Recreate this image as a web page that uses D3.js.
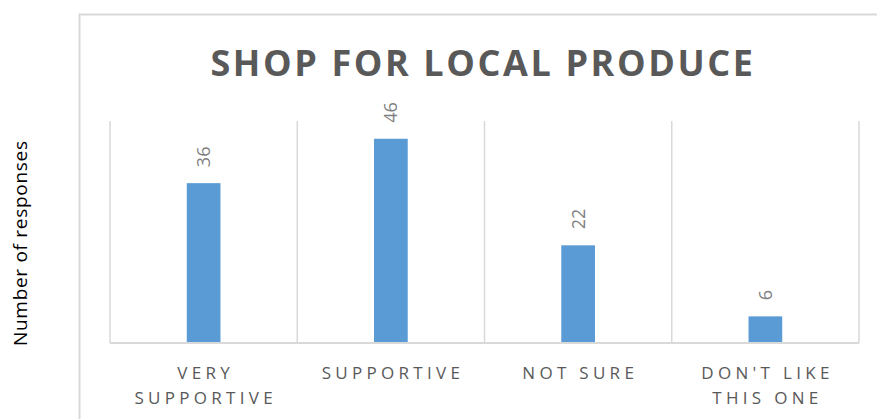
<!DOCTYPE html>
<html>
<head>
<meta charset="utf-8">
<script src="https://cdn.jsdelivr.net/npm/d3@7"></script>
<style>
  html, body { margin: 0; padding: 0; background: #fff; }
  svg { display: block; }
</style>
</head>
<body>
<svg id="chart" width="877" height="419"></svg>
<script>
// Survey responses for "Shop for local produce"
const categories = [["VERY", "SUPPORTIVE"], ["SUPPORTIVE"], ["NOT SURE"], ["DON'T LIKE", "THIS ONE"]];
const categoryKeys = ["Very supportive", "Supportive", "Not sure", "Don't like this one"];
const responses = [36, 46, 22, 6];
const yDomain = [0, 50];
const chartTitle = "SHOP FOR LOCAL PRODUCE";
const yAxisTitle = "Number of responses";

const svg = d3.select("#chart");
const W = 877, H = 419;
const plot = { left: 110, right: 859, top: 121, bottom: 343 };

const gridColor = "#d9d9d9";
const textGray = "#595959";
const barColor = "#5b9bd5";

// Chart area frame (extends past the window on the right and bottom)
svg.append("rect")
  .attr("x", 79.5).attr("y", 14.5)
  .attr("width", W + 20).attr("height", H + 20)
  .attr("fill", "none").attr("stroke", gridColor).attr("stroke-width", 2);

const x = d3.scaleBand().domain(categoryKeys).range([plot.left, plot.right]).paddingInner(0).paddingOuter(0);
const y = d3.scaleLinear().domain(yDomain).range([plot.bottom, plot.top]);

// Vertical category separators
const sepX = categoryKeys.map(k => x(k)).concat([x(categoryKeys[categoryKeys.length - 1]) + x.bandwidth()]);
svg.append("g").selectAll("line").data(sepX).join("line")
  .attr("x1", d => d).attr("x2", d => d)
  .attr("y1", y(yDomain[1])).attr("y2", y(0))
  .attr("stroke", gridColor).attr("stroke-width", 1.5);

// Bars
const barW = x.bandwidth() * 0.18;
svg.append("g").selectAll("rect").data(responses).join("rect")
  .attr("x", (d, i) => x(categoryKeys[i]) + x.bandwidth() / 2 - barW / 2)
  .attr("y", d => y(d))
  .attr("width", barW)
  .attr("height", d => y(0) - y(d))
  .attr("fill", barColor);

// Baseline
svg.append("line")
  .attr("x1", plot.left).attr("x2", plot.right)
  .attr("y1", y(0)).attr("y2", y(0))
  .attr("stroke", gridColor).attr("stroke-width", 2);

// Value labels, rotated
svg.append("g").selectAll("text").data(responses).join("text")
  .attr("transform", (d, i) => {
    const cx = x(categoryKeys[i]) + x.bandwidth() / 2 + 6.5;
    const cy = y(d) - 16;
    return `translate(${cx},${cy}) rotate(-90)`;
  })
  .attr("text-anchor", "start")
  .attr("font-family", "Open Sans, sans-serif")
  .attr("font-size", 18)
  .attr("fill", "#7f7f7f")
  .text(d => d);

// Category labels (may wrap to two lines)
const catG = svg.append("g")
  .attr("font-family", "Open Sans, sans-serif")
  .attr("font-size", 17)
  .attr("letter-spacing", "4.3px")
  .attr("fill", textGray)
  .attr("text-anchor", "middle");
categories.forEach((lines, i) => {
  const cx = x(categoryKeys[i]) + x.bandwidth() / 2 + 2.1;
  const t = catG.append("text").attr("x", cx).attr("y", 379);
  lines.forEach((ln, j) => {
    t.append("tspan").attr("x", cx).attr("dy", j === 0 ? 0 : 24.5).text(ln);
  });
});

// Title
svg.append("text")
  .attr("x", (plot.left + plot.right) / 2 - 1.5)
  .attr("y", 76)
  .attr("text-anchor", "middle")
  .attr("font-family", "Open Sans, sans-serif")
  .attr("font-weight", "bold")
  .attr("font-size", 36)
  .attr("letter-spacing", "2.6px")
  .attr("fill", textGray)
  .text(chartTitle);

// Y axis title
svg.append("text")
  .attr("transform", `translate(27,243.5) rotate(-90)`)
  .attr("text-anchor", "middle")
  .attr("font-family", "Open Sans, sans-serif")
  .attr("font-size", 19)
  .attr("textLength", 205)
  .attr("lengthAdjust", "spacing")
  .attr("fill", "#000")
  .text(yAxisTitle);
</script>
</body>
</html>
